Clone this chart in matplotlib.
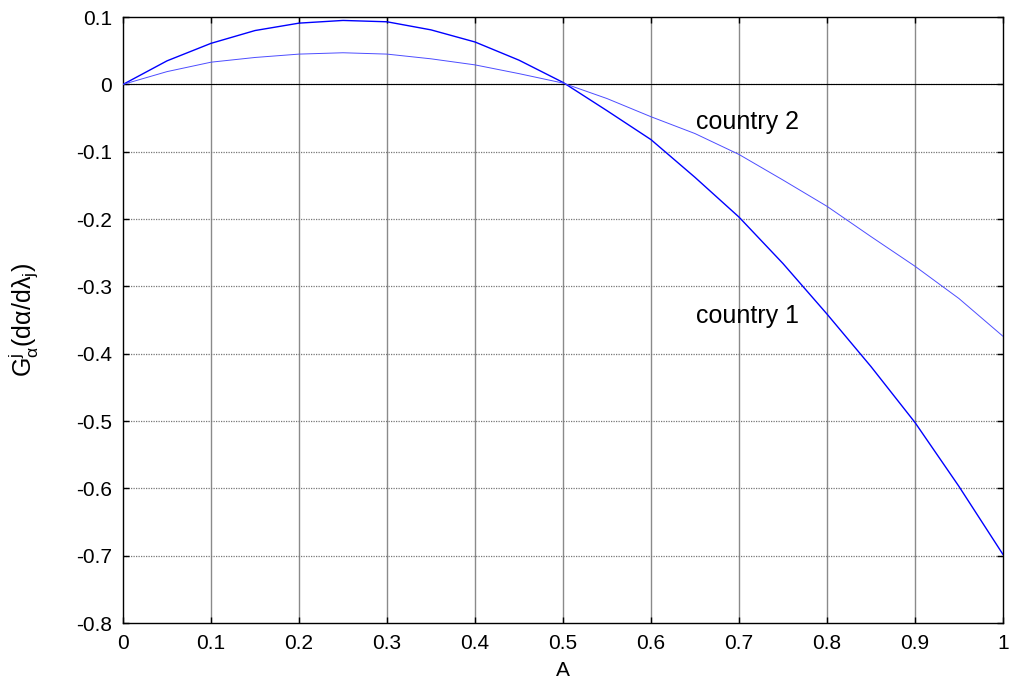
import matplotlib
matplotlib.use("Agg")
import matplotlib.pyplot as plt

A = [0.0, 0.05, 0.1, 0.15, 0.2, 0.25, 0.3, 0.35, 0.4, 0.45, 0.5,
     0.55, 0.6, 0.65, 0.7, 0.75, 0.8, 0.85, 0.9, 0.95, 1.0]
country1 = [0.0, 0.035, 0.061, 0.080, 0.091, 0.095, 0.093, 0.081, 0.063, 0.036, 0.003,
            -0.039, -0.082, -0.138, -0.197, -0.266, -0.341, -0.419, -0.502, -0.597, -0.698]
country2 = [0.0, 0.019, 0.033, 0.040, 0.045, 0.047, 0.045, 0.038, 0.029, 0.016, 0.002,
            -0.021, -0.048, -0.073, -0.104, -0.142, -0.181, -0.226, -0.270, -0.318, -0.374]
xticks = [0, 0.1, 0.2, 0.3, 0.4, 0.5, 0.6, 0.7, 0.8, 0.9, 1]
xticklabels = ["0", "0.1", "0.2", "0.3", "0.4", "0.5", "0.6", "0.7", "0.8", "0.9", "1"]
yticks = [0.1, 0, -0.1, -0.2, -0.3, -0.4, -0.5, -0.6, -0.7, -0.8]
yticklabels = ["0.1", "0", "-0.1", "-0.2", "-0.3", "-0.4", "-0.5", "-0.6", "-0.7", "-0.8"]

plt.rcParams['font.family'] = ['Liberation Sans', 'DejaVu Sans']
plt.rcParams['mathtext.fontset'] = 'custom'
plt.rcParams['mathtext.rm'] = 'Liberation Sans'
plt.rcParams['mathtext.it'] = 'Liberation Sans'

fig = plt.figure(figsize=(10.11, 6.83), dpi=100)
ax = fig.add_axes([0.1217, 0.0878, 0.8703, 0.8872])

for x in xticks[1:-1]:
    ax.axvline(x, color='#8a8a8a', lw=1.0, zorder=0)
for y in yticks[1:-1]:
    ax.axhline(y, color='#777777', lw=0.9, ls=(0, (1, 1)), zorder=0)
ax.axhline(0, color='black', lw=0.8, zorder=1)

ax.plot(A, country1, color='#0000ff', lw=1.0, zorder=3)
ax.plot(A, country2, color='#4d4dff', lw=0.7, zorder=3)

ax.text(0.651, -0.056, "country 2", fontsize=18, va='center', ha='left')
ax.text(0.651, -0.344, "country 1", fontsize=18, va='center', ha='left')

ax.set_xlim(0, 1)
ax.set_ylim(-0.8, 0.1)
ax.set_xticks(xticks)
ax.set_xticklabels(xticklabels)
ax.set_yticks(yticks)
ax.set_yticklabels(yticklabels)
ax.tick_params(direction='in', length=4, top=True, right=True, labelsize=15, width=1.0)
ax.tick_params(axis='x', pad=8)
ax.tick_params(axis='y', pad=8)
for s in ax.spines.values():
    s.set_linewidth(1.0)

ax.set_xlabel("A", fontsize=15)
ax.xaxis.set_label_coords(0.5, -0.062)
ax.set_ylabel(r"$\mathrm{G}^{\mathrm{j}}_{\alpha}(\mathrm{d}\alpha/\mathrm{d}\lambda_{\mathrm{j}})$",
              fontsize=18)
ax.yaxis.set_label_coords(-0.094, 0.5)

fig.savefig("out.png", dpi=100)
